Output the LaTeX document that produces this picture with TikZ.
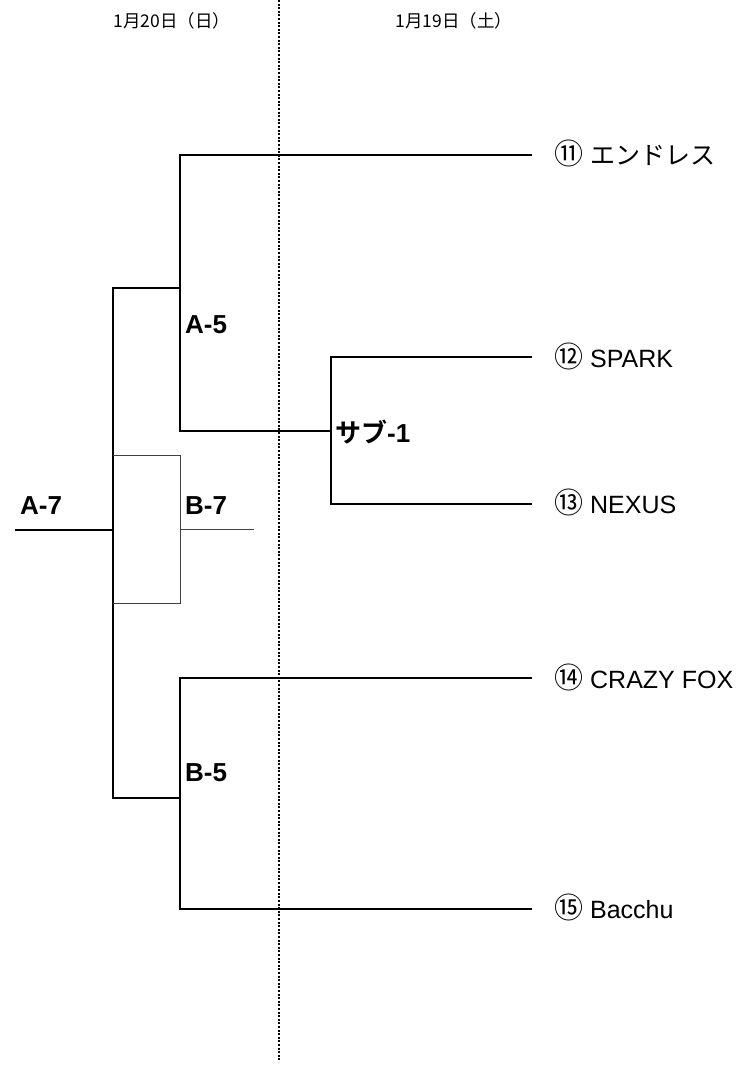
\documentclass[tikz,border=0pt]{standalone}
\usepackage{fontspec}
\setmainfont{Liberation Sans}
\newfontfamily\jp{Noto Sans CJK JP}[BoldFont={Noto Sans CJK JP Bold}]
\newcommand\cnum[1]{{\jp\fontsize{29}{30}\selectfont #1}}
\begin{document}
\begin{tikzpicture}[x=1pt,y=-1pt,
  bline/.style={line width=1.8pt,line cap=rect},
  thinline/.style={line width=1pt,draw=black!75},
  dayline/.style={line width=2pt,dash pattern=on 2pt off 1.6pt},
  hdr/.style={font=\jp\fontsize{17.5}{20}\selectfont,inner sep=0pt},
  team/.style={anchor=west,inner sep=0pt,font=\fontsize{25}{30}\selectfont},
  mlabel/.style={anchor=west,inner sep=0pt,font=\bfseries\fontsize{26}{30}\selectfont}]
\useasboundingbox (0,0) rectangle (754,1065);
% headers and day divider
\node[hdr] (d20) at (172,21) {1月20日（日）};
\node[hdr] (d19) at (454,21) {1月19日（土）};
\coordinate (divtop) at (279,0);
\coordinate (divbot) at (279,1062);
\draw[dayline] (divtop) -- (divbot);
% team nodes
\node[team] (t11) at (554,153) {\cnum{⑪} {\jp エンドレス}};
\node[team] (t12) at (554,356) {\cnum{⑫} SPARK};
\node[team] (t13) at (554,502) {\cnum{⑬} NEXUS};
\node[team] (t14) at (554,677) {\cnum{⑭} CRAZY FOX};
\node[team] (t15) at (554,907) {\cnum{⑮} Bacchu};
% line ends
\coordinate (e11) at (531,155);
\coordinate (e12) at (531,357);
\coordinate (e13) at (531,504);
\coordinate (e14) at (531,678);
\coordinate (e15) at (531,909);
% sub-1 bracket
\coordinate (s1) at (331,431);
\draw[bline] (e12) -- (331,357) -- (331,504) -- (e13);
\node[mlabel] (sub1) at (335,432) {{\jp\bfseries サブ}-1};
% A-5 bracket
\coordinate (a5) at (180,288);
\draw[bline] (e11) -- (180,155) -- (180,431) -- (s1);
\node[mlabel] (A5) at (185,325) {A-5};
% B-5 bracket
\coordinate (b5) at (180,798);
\draw[bline] (e14) -- (180,678) -- (180,909) -- (e15);
\node[mlabel] (B5) at (185,773) {B-5};
% A-7 bracket
\coordinate (a7) at (113,530);
\draw[bline] (a5) -- (113,288) -- (113,798) -- (b5);
\coordinate (a7end) at (16,530);
\draw[bline] (a7end) -- (a7);
\node[mlabel] (A7) at (20,506) {A-7};
% B-7 bracket (thin)
\coordinate (b7) at (180,529);
\coordinate (b7end) at (254,529);
\draw[thinline] (113,455) -- (180,455) -- (180,603) -- (113,603);
\draw[thinline] (b7) -- (b7end);
\node[mlabel] (B7) at (185,506) {B-7};
\end{tikzpicture}
\end{document}
